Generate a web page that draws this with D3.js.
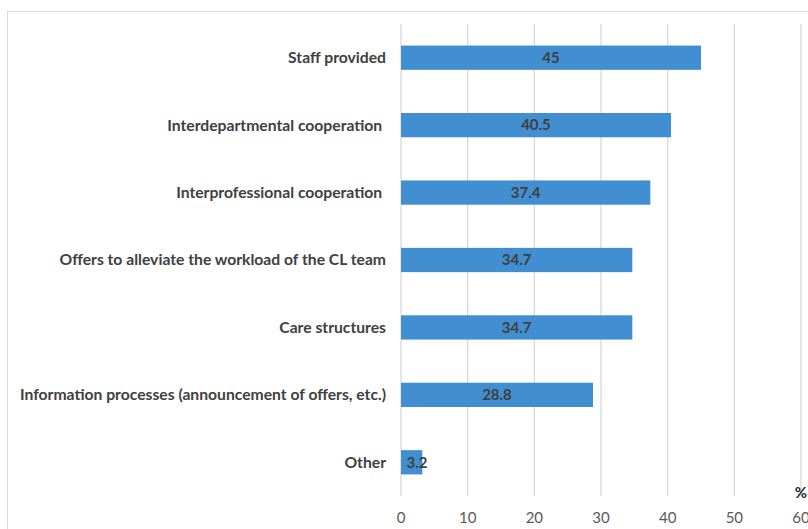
<!DOCTYPE html>
<html>
<head>
<meta charset="utf-8">
<script src="https://cdn.jsdelivr.net/npm/d3@7.9.0/dist/d3.min.js"></script>
<style>
  body { margin: 0; background: #fff; }
  svg { display: block; font-family: Lato, "Open Sans", sans-serif; }
</style>
</head>
<body>
<svg id="chart" width="808" height="529"></svg>
<script>
// Data
const categories = [
  'Staff provided',
  'Interdepartmental cooperation ',
  'Interprofessional cooperation ',
  'Offers to alleviate the workload of the CL team',
  'Care structures',
  'Information processes (announcement of offers, etc.)',
  'Other'
];
const values = [45, 40.5, 37.4, 34.7, 34.7, 28.8, 3.2];
const xTicks = [0, 10, 20, 30, 40, 50, 60];

const svg = d3.select('#chart');

// chart frame
svg.append('rect')
  .attr('x', 7.5).attr('y', 11.5)
  .attr('width', 900).attr('height', 600)
  .attr('fill', 'none')
  .attr('stroke', '#d9d9d9');

const margin = { left: 401, right: 7, top: 24, bottom: 33 };
const width = 808 - margin.left - margin.right;
const height = 529 - margin.top - margin.bottom;

const g = svg.append('g').attr('transform', `translate(${margin.left},${margin.top})`);

const x = d3.scaleLinear().domain([0, 60]).range([0, 400]);
const y = d3.scaleBand().domain(categories).range([0, height]).paddingInner(0.64).paddingOuter(0.32);

// gridlines
g.selectAll('line.grid')
  .data(xTicks)
  .join('line')
  .attr('class', 'grid')
  .attr('x1', d => x(d)).attr('x2', d => x(d))
  .attr('y1', 0).attr('y2', height)
  .attr('stroke', '#d9d9d9')
  .attr('stroke-width', 1.3);

// x tick labels
g.selectAll('text.tick')
  .data(xTicks)
  .join('text')
  .attr('class', 'tick')
  .attr('x', d => x(d))
  .attr('y', height + 27)
  .attr('text-anchor', 'middle')
  .attr('fill', '#595959')
  .attr('font-size', 15)
  .text(d => d);

// axis title
g.append('text')
  .attr('x', x(60))
  .attr('y', height + 2)
  .attr('text-anchor', 'middle')
  .attr('fill', '#262626')
  .attr('font-size', 15)
  .attr('font-weight', 'bold')
  .text('%');

// bars
g.selectAll('rect.bar')
  .data(values)
  .join('rect')
  .attr('class', 'bar')
  .attr('x', x(0))
  .attr('y', (d, i) => y(categories[i]))
  .attr('width', d => x(d) - x(0))
  .attr('height', y.bandwidth())
  .attr('fill', '#418fd1');

// value labels
g.selectAll('text.val')
  .data(values)
  .join('text')
  .attr('class', 'val')
  .attr('x', d => Math.max(x(d) / 2, 16))
  .attr('y', (d, i) => y(categories[i]) + y.bandwidth() / 2)
  .attr('dy', '0.35em')
  .attr('text-anchor', 'middle')
  .attr('fill', '#404040')
  .attr('font-size', 15)
  .attr('font-weight', 'bold')
  .text(d => d);

// category labels
g.selectAll('text.cat')
  .data(categories)
  .join('text')
  .attr('class', 'cat')
  .attr('x', -15)
  .attr('y', d => y(d) + y.bandwidth() / 2)
  .attr('dy', '0.35em')
  .attr('text-anchor', 'end')
  .attr('fill', '#404040')
  .attr('font-size', 15.7)
  .attr('font-weight', 'bold')
  .attr('xml:space', 'preserve')
  .style('white-space', 'pre')
  .text(d => d);
</script>
</body>
</html>
